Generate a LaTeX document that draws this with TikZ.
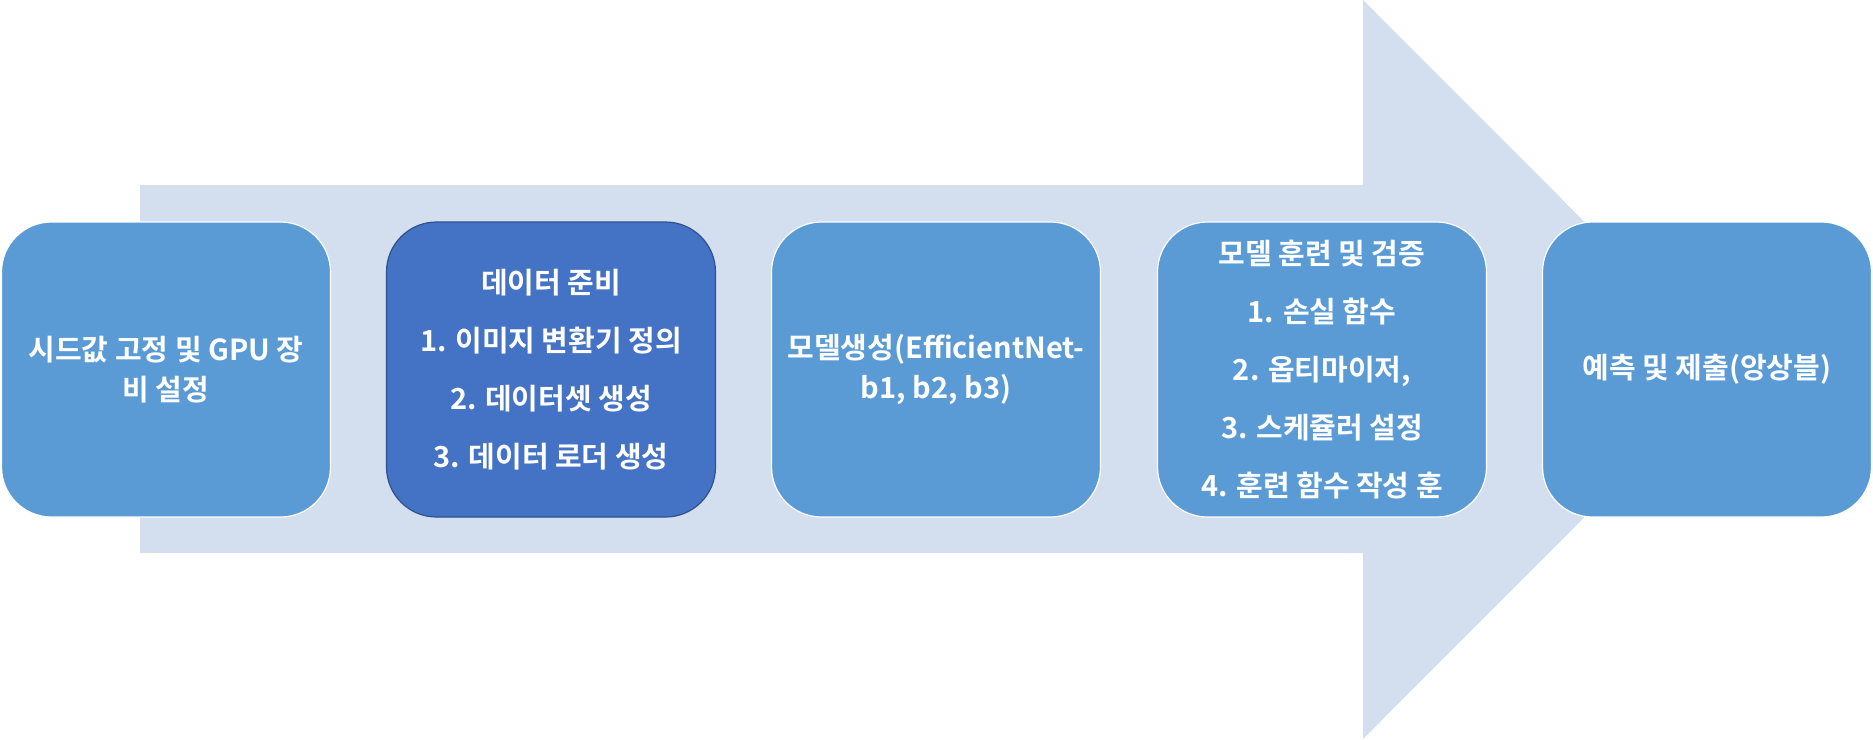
\documentclass[tikz,border=0pt]{standalone}
\usepackage{fontspec}
\setmainfont{Noto Sans CJK KR}[BoldFont={Noto Sans CJK KR Bold}]
\definecolor{arrowfill}{HTML}{D3DEEF}
\definecolor{boxfill}{HTML}{5B9BD5}
\definecolor{darkfill}{HTML}{4472C4}
\definecolor{darkline}{HTML}{2F528F}
\begin{document}
\begin{tikzpicture}[x=0.5pt,y=-0.5pt,
  stage/.style={rectangle, rounded corners=25pt, fill=boxfill, draw=white, line width=0.6pt,
    minimum width=164.5pt, minimum height=147.5pt, inner sep=0pt, align=center, text=white,
    font=\bfseries\fontsize{14.5}{20}\selectfont},
  liststage/.style={stage, font=\bfseries\fontsize{14.5}{29}\selectfont},
  darkstage/.style={liststage, fill=darkfill, draw=darkline}]
\useasboundingbox (0,0) rectangle (1873,739);
\fill[arrowfill] (140,185) -- (1363,185) -- (1363,0) -- (1732,369.5) -- (1363,739) -- (1363,553) -- (140,553) -- cycle;
\node[stage] (s1) at (166,369.5) {시드값 고정 및 GPU 장\\비 설정};
\node[darkstage] (s2) at (551,369.5) {데이터 준비\\1. 이미지 변환기 정의\\2. 데이터셋 생성\\3. 데이터 로더 생성};
\node[stage] (s3) at (936,369.5) {모델생성(EfficientNet-\\b1, b2, b3)};
\node[liststage] (s4) at (1322,369.5) {모델 훈련 및 검증\\1. 손실 함수\\2. 옵티마이저,\\3. 스케쥴러 설정\\4. 훈련 함수 작성 훈};
\node[stage] (s5) at (1707,369.5) {예측 및 제출(앙상블)};
\end{tikzpicture}
\end{document}
